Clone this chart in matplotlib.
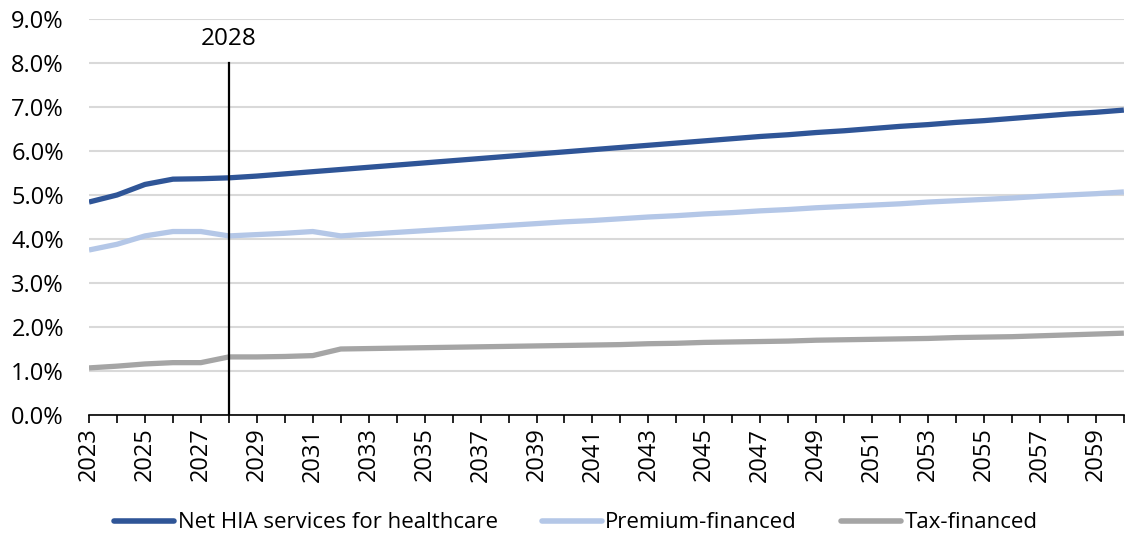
import matplotlib
matplotlib.use("Agg")
import matplotlib.pyplot as plt
from matplotlib.ticker import FuncFormatter

plt.rcParams['font.family'] = ['Open Sans', 'DejaVu Sans']

years = list(range(2023, 2061))

net_hia = [4.84, 5.00, 5.24, 5.36, 5.37, 5.39, 5.43, 5.48, 5.53, 5.58,
           5.63, 5.68, 5.73, 5.78, 5.83, 5.88, 5.93, 5.98, 6.03, 6.08,
           6.13, 6.18, 6.23, 6.28, 6.33, 6.37, 6.42, 6.46, 6.51, 6.56,
           6.60, 6.65, 6.69, 6.74, 6.79, 6.84, 6.88, 6.93]

premium = [3.75, 3.88, 4.07, 4.17, 4.17, 4.07, 4.10, 4.13, 4.17, 4.07,
           4.11, 4.15, 4.19, 4.23, 4.27, 4.31, 4.35, 4.39, 4.42, 4.46,
           4.50, 4.53, 4.57, 4.60, 4.64, 4.67, 4.71, 4.74, 4.77, 4.80,
           4.84, 4.87, 4.90, 4.93, 4.97, 5.00, 5.03, 5.07]

tax = [1.07, 1.11, 1.16, 1.19, 1.19, 1.32, 1.32, 1.33, 1.35, 1.50,
       1.51, 1.52, 1.53, 1.54, 1.55, 1.56, 1.57, 1.58, 1.59, 1.60,
       1.62, 1.63, 1.65, 1.66, 1.67, 1.68, 1.70, 1.71, 1.72, 1.73,
       1.74, 1.76, 1.77, 1.78, 1.80, 1.82, 1.84, 1.86]

series_names = ["Net HIA services for healthcare", "Premium-financed", "Tax-financed"]
series_colors = ["#2F5597", "#B4C7E7", "#A5A5A5"]
marker_year = 2028

fig = plt.figure(figsize=(11.25, 5.39), dpi=100)
ax = fig.add_axes([89 / 1125, 1 - 415 / 539, 1 - 89 / 1125 - 0.001, (415 - 19) / 539])

for vals, name, col in zip([net_hia, premium, tax], series_names, series_colors):
    ax.plot(years, vals, color=col, lw=3.8, label=name, solid_capstyle='butt')

ax.axvline(marker_year, ymin=0, ymax=8 / 9, color='black', lw=1.6)
ax.text(marker_year, 8.27, str(marker_year), ha='center', va='bottom', fontsize=17.5)

ax.set_xlim(years[0], years[-1])
ax.set_ylim(0, 9)
ax.set_yticks(range(0, 10))
ax.yaxis.set_major_formatter(FuncFormatter(lambda v, p: f"{v:.1f}%"))
ax.grid(axis='y', color='#D9D9D9', lw=1.5)
ax.set_axisbelow(True)

ax.set_xticks(years)
ax.set_xticklabels([str(y) if (y - 2023) % 2 == 0 else "" for y in years], rotation=90)
ax.tick_params(axis='x', direction='out', length=6, width=1.2, labelsize=17, pad=3)
ax.tick_params(axis='y', length=0, labelsize=17, pad=18)

for s in ['top', 'right', 'left']:
    ax.spines[s].set_visible(False)
ax.spines['bottom'].set_linewidth(1.2)

leg = fig.legend(loc='center', bbox_to_anchor=(0.512, 1 - 523 / 539), ncol=3, frameon=False,
                 fontsize=16, handlelength=2.7, handletextpad=0.15, columnspacing=2.0)
for h in leg.get_lines():
    h.set_linewidth(4)
    h.set_solid_capstyle('round')

fig.savefig("out.png", dpi=100)
